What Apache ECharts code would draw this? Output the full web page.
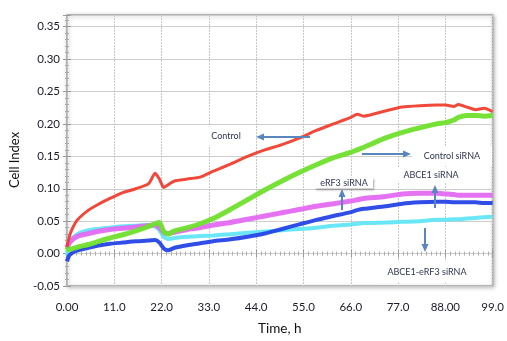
<!DOCTYPE html>
<html>
<head>
<meta charset="utf-8">
<script src="https://cdn.jsdelivr.net/npm/echarts@6/dist/echarts.min.js"></script>
<style>
  html, body { margin: 0; padding: 0; background: #fff; }
  #chart { width: 507px; height: 341px; }
</style>
</head>
<body>
<div id="chart"></div>
<script>
const times = [0, 0.5, 1, 2, 3, 5, 7, 10, 13, 16, 19, 20.5, 21.5, 22.5, 23.5, 25, 28, 31, 34, 38, 42, 46, 50, 54, 58, 62, 66, 67.5, 69, 74, 78, 82, 86, 88, 90, 91, 93, 95, 97, 99];

const controlVals = [0.01, 0.025, 0.035, 0.048, 0.056, 0.067, 0.075, 0.085, 0.094, 0.1, 0.108, 0.124, 0.115, 0.102, 0.106, 0.112, 0.115, 0.118, 0.127, 0.138, 0.15, 0.16, 0.168, 0.178, 0.19, 0.2, 0.21, 0.215, 0.212, 0.22, 0.226, 0.228, 0.229, 0.229, 0.227, 0.23, 0.226, 0.222, 0.224, 0.219];

const controlSiVals = [0.01, 0.006, 0.007, 0.009, 0.011, 0.014, 0.018, 0.024, 0.029, 0.035, 0.042, 0.046, 0.048, 0.034, 0.03, 0.035, 0.04, 0.046, 0.054, 0.068, 0.083, 0.098, 0.112, 0.125, 0.137, 0.148, 0.156, 0.16, 0.164, 0.178, 0.187, 0.194, 0.2, 0.202, 0.206, 0.21, 0.213, 0.213, 0.212, 0.213];

const erf3Vals = [0.01, 0.016, 0.02, 0.025, 0.028, 0.031, 0.034, 0.037, 0.039, 0.041, 0.043, 0.044, 0.04, 0.033, 0.031, 0.033, 0.037, 0.04, 0.044, 0.048, 0.053, 0.058, 0.063, 0.068, 0.073, 0.077, 0.081, 0.083, 0.085, 0.088, 0.092, 0.093, 0.093, 0.092, 0.091, 0.09, 0.09, 0.09, 0.09, 0.09];

const abce1Vals = [-0.012, -0.003, 0.0, 0.004, 0.006, 0.009, 0.012, 0.015, 0.017, 0.019, 0.02, 0.021, 0.017, 0.008, 0.005, 0.009, 0.013, 0.016, 0.019, 0.022, 0.026, 0.031, 0.038, 0.045, 0.052, 0.058, 0.064, 0.067, 0.069, 0.073, 0.077, 0.079, 0.08, 0.08, 0.079, 0.079, 0.079, 0.079, 0.078, 0.078];

const doubleVals = [-0.003, 0.015, 0.022, 0.028, 0.032, 0.036, 0.038, 0.04, 0.042, 0.043, 0.044, 0.042, 0.036, 0.026, 0.022, 0.024, 0.026, 0.027, 0.028, 0.03, 0.032, 0.034, 0.036, 0.038, 0.04, 0.043, 0.045, 0.046, 0.047, 0.048, 0.049, 0.05, 0.052, 0.052, 0.053, 0.053, 0.054, 0.055, 0.056, 0.057];

const xTickLabels = ['0.00', '11.0', '22.0', '33.0', '44.0', '55.0', '66.0', '77.0', '88.00', '99.0'];
const seriesNames = ['Control', 'Control siRNA', 'eRF3 siRNA', 'ABCE1 siRNA', 'ABCE1-eRF3 siRNA'];

const FONT = 'Lato, "Open Sans", sans-serif';
const toPairs = vals => times.map((t, i) => [t, vals[i]]);

const chart = echarts.init(document.getElementById('chart'), null, { renderer: 'canvas' });

function line(name, vals, color, width, z) {
  return {
    name: name, type: 'line', data: toPairs(vals), showSymbol: false, smooth: 0.2,
    lineStyle: { color: color, width: width, opacity: 0.95 }, z: z, silent: true
  };
}

function arrow(x1, y1, x2, y2) {
  const c = '#5a86c0';
  const dx = x2 - x1, dy = y2 - y1, L = Math.hypot(dx, dy);
  const ux = dx / L, uy = dy / L, px = -uy, py = ux;
  const hl = 8, hw = 3.5;
  const bx = x2 - ux * hl, by = y2 - uy * hl;
  return [
    { type: 'line', shape: { x1: x1, y1: y1, x2: bx, y2: by }, style: { stroke: c, lineWidth: 2 }, z: 120 },
    { type: 'polygon', shape: { points: [[x2, y2], [bx + px * hw, by + py * hw], [bx - px * hw, by - py * hw]] }, style: { fill: c }, z: 120 }
  ];
}

function label(text, cx, cy, w, h, shadow) {
  return [{
    type: 'rect', shape: { x: cx - w / 2, y: cy - h / 2, width: w, height: h },
    style: shadow ? { fill: '#fff', shadowColor: 'rgba(0,0,0,0.35)', shadowBlur: 2, shadowOffsetX: 1, shadowOffsetY: 1 } : { fill: '#fff' },
    z: 110
  }, {
    type: 'text', x: cx, y: cy,
    style: { text: text, fill: '#2e3550', font: '9px ' + FONT, align: 'center', verticalAlign: 'middle' },
    z: 115
  }];
}

const graphics = [].concat(
  [{
    type: 'text', x: 15, y: 160, rotation: Math.PI / 2,
    style: { text: 'Cell Index', fill: '#111', font: '13px ' + FONT, align: 'center', verticalAlign: 'middle' }, z: 100
  }],
  label(seriesNames[0], 226, 136, 44, 19, false),
  label(seriesNames[1], 452, 156, 80, 20, false),
  label(seriesNames[2], 344, 183, 58, 11, true),
  label(seriesNames[3], 431, 175, 72, 16, false),
  label(seriesNames[4], 427, 272, 100, 21, false),
  arrow(310, 137, 256, 137),
  arrow(362, 154, 411, 154),
  arrow(342, 210, 342, 189),
  arrow(435, 208, 435, 185),
  arrow(425, 228, 425, 252)
);

const option = {
  animation: false,
  backgroundColor: '#fff',
  grid: {
    left: 67, right: 10, top: 15, bottom: 48, show: true,
    borderColor: '#a0a0a0', borderWidth: 1.5, backgroundColor: '#fff',
    shadowColor: 'rgba(0,0,0,0.25)', shadowBlur: 4, shadowOffsetX: 1, shadowOffsetY: 1
  },
  xAxis: [{
    type: 'value', min: 0, max: 99, interval: 11,
    name: 'Time, h', nameLocation: 'middle', nameGap: 36,
    nameTextStyle: { fontFamily: FONT, fontSize: 13.5, color: '#111' },
    axisLine: { show: false },
    axisTick: { show: true, inside: true, length: 4, lineStyle: { color: '#999' } },
    minorTick: { show: true, splitNumber: 10, length: 2, lineStyle: { color: '#aaa' } },
    axisLabel: {
      margin: 15, fontFamily: FONT, fontSize: 11.5, color: '#1a1a2a',
      formatter: (v) => { const i = Math.round(v / 11); return xTickLabels[i] !== undefined ? xTickLabels[i] : ''; }
    },
    splitLine: { show: true, lineStyle: { color: '#c8c8c8', width: 1, type: [2, 1] } }
  }, {
    type: 'value', min: 0, max: 99, interval: 11, position: 'top',
    axisLine: { show: false }, axisLabel: { show: false }, splitLine: { show: false },
    axisTick: { show: true, inside: true, length: 4, lineStyle: { color: '#999' } },
    minorTick: { show: true, splitNumber: 10, length: 2, lineStyle: { color: '#aaa' } }
  }],
  yAxis: [{
    type: 'value', min: -0.05, max: 0.368, interval: 0.05,
    axisLine: { show: false },
    axisTick: { show: true, inside: true, length: 4, lineStyle: { color: '#999' } },
    minorTick: { show: true, splitNumber: 5, length: 2, lineStyle: { color: '#aaa' } },
    axisLabel: {
      margin: 7, fontFamily: FONT, fontSize: 11.5, color: '#1a1a2a', showMaxLabel: false,
      formatter: (v) => v.toFixed(2)
    },
    splitLine: { show: true, lineStyle: { color: '#cdcdcd', width: 1.2 } }
  }, {
    type: 'value', min: -0.05, max: 0.368, interval: 0.05, position: 'right',
    axisLine: { show: false }, axisLabel: { show: false }, splitLine: { show: false },
    axisTick: { show: true, inside: true, length: 4, lineStyle: { color: '#999' } },
    minorTick: { show: true, splitNumber: 5, length: 2, lineStyle: { color: '#aaa' } }
  }],
  series: [
    line(seriesNames[4], doubleVals, '#62e6f6', 4, 2),
    line(seriesNames[3], abce1Vals, '#2545e6', 4, 3),
    line(seriesNames[2], erf3Vals, '#e46af2', 5, 4),
    line(seriesNames[1], controlSiVals, '#6fe02c', 5, 5),
    line(seriesNames[0], controlVals, '#ef3e2e', 3, 6)
  ],
  graphic: graphics
};

chart.setOption(option);
</script>
</body>
</html>
